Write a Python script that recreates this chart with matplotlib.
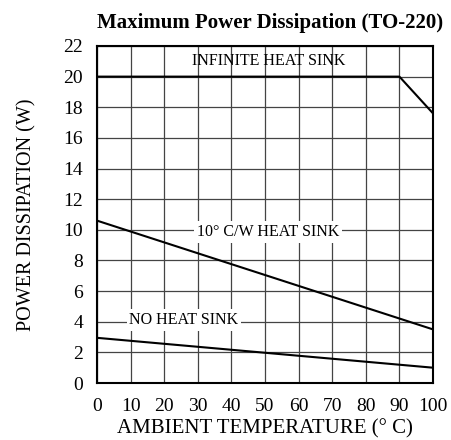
import matplotlib
matplotlib.use("Agg")
import matplotlib.pyplot as plt

plt.rcParams["font.family"] = ["Liberation Serif", "DejaVu Serif"]

# curve data
infinite_x = [0, 90, 100]
infinite_y = [20, 20, 17.6]
sink10_x = [0, 100]
sink10_y = [10.6, 3.5]
nosink_x = [0, 100]
nosink_y = [2.95, 1.0]

x_ticks = list(range(0, 101, 10))
y_ticks = list(range(0, 23, 2))

fig = plt.figure(figsize=(4.52, 4.40), dpi=100)
ax = fig.add_axes([0.2146, 0.1295, 0.7434, 0.766])

ax.plot(infinite_x, infinite_y, color="black", lw=1.5)
ax.plot(sink10_x, sink10_y, color="black", lw=1.5)
ax.plot(nosink_x, nosink_y, color="black", lw=1.5)

ax.set_xlim(0, 100)
ax.set_ylim(0, 22)
ax.set_xticks(x_ticks)
ax.set_yticks(y_ticks)
ax.grid(True, color="#444444", lw=0.9)
ax.set_axisbelow(True)
ax.tick_params(length=0, labelsize=14)
ax.tick_params(axis="x", pad=11)
ax.tick_params(axis="y", pad=10)
for s in ax.spines.values():
    s.set_linewidth(1.5)

ax.text(51, 21, "INFINITE HEAT SINK", ha="center", va="center", fontsize=11.5)
ax.text(51, 9.85, "10\u00b0 C/W HEAT SINK", ha="center", va="center", fontsize=11.5,
        bbox=dict(facecolor="white", edgecolor="none", pad=2))
ax.text(25.9, 4.1, "NO HEAT SINK", ha="center", va="center", fontsize=11.5,
        bbox=dict(facecolor="white", edgecolor="none", pad=2))

ax.set_xlabel("AMBIENT TEMPERATURE (\u00b0 C)", fontsize=15, labelpad=3)
ax.set_ylabel("POWER DISSIPATION (W)", fontsize=14.5, labelpad=19)
ax.set_title("Maximum Power Dissipation (TO-220)", fontsize=15, fontweight="bold",
             pad=13, x=0.515)

fig.savefig("out.png", dpi=100)
